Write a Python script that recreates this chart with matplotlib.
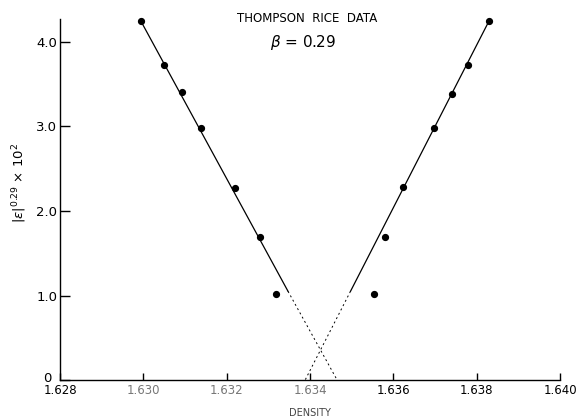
import matplotlib
matplotlib.use("Agg")
import matplotlib.pyplot as plt
from matplotlib.transforms import ScaledTranslation

# Data
left_density = [1.62994, 1.63050, 1.63093, 1.63138, 1.63220, 1.63280, 1.63318]
left_eps = [4.25, 3.73, 3.40, 2.98, 2.27, 1.69, 1.02]
right_density = [1.63830, 1.63779, 1.63741, 1.63698, 1.63623, 1.63580, 1.63554]
right_eps = [4.25, 3.73, 3.38, 2.98, 2.28, 1.69, 1.02]

# fitted lines (solid part, then dotted extrapolation)
left_fit_x = [1.62991, 1.63347]
left_fit_y = [4.27, 1.05]
left_ext_x = [1.63347, 1.63465]
left_ext_y = [1.05, 0.0]
right_fit_x = [1.63832, 1.63497]
right_fit_y = [4.27, 1.05]
right_ext_x = [1.63497, 1.63388]
right_ext_y = [1.05, 0.0]

xticks = [1.628, 1.630, 1.632, 1.634, 1.636, 1.638, 1.640]
xticklabels = ["1.628", "1.630", "1.632", "1.634", "1.636", "1.638", "1.640"]
yticks = [0, 1, 2, 3, 4]
yticklabels = ["0", "1.0", "2.0", "3.0", "4.0"]

fig = plt.figure(figsize=(5.78, 4.2), dpi=100)
ax = fig.add_axes([0.104, 0.095, 0.865, 0.86])

ax.plot(left_fit_x, left_fit_y, color="black", lw=0.9)
ax.plot(left_ext_x, left_ext_y, color="black", lw=0.7, ls=(0, (2, 3)))
ax.plot(right_fit_x, right_fit_y, color="black", lw=0.9)
ax.plot(right_ext_x, right_ext_y, color="black", lw=0.7, ls=(0, (2, 3)))
ax.plot(left_density, left_eps, "o", color="black", ms=4.2, clip_on=False)
ax.plot(right_density, right_eps, "o", color="black", ms=4.2, clip_on=False)

ax.set_xlim(1.628, 1.640)
ax.set_ylim(0, 4.27)
ax.spines["top"].set_visible(False)
ax.spines["right"].set_visible(False)
for s in ("left", "bottom"):
    ax.spines[s].set_linewidth(1.0)

ax.set_xticks(xticks)
ax.set_xticklabels(xticklabels, fontsize=8.5)
for lab, c in zip(ax.get_xticklabels(), ["black", "#777777", "#777777", "#777777", "black", "black", "black"]):
    lab.set_color(c)
first = ax.get_xticklabels()[0]
first.set_transform(first.get_transform() + ScaledTranslation(3 / 72, -2 / 72, fig.dpi_scale_trans))
last = ax.get_xticklabels()[-1]
last.set_transform(last.get_transform() + ScaledTranslation(-1.5 / 72, 0, fig.dpi_scale_trans))
ax.set_yticks(yticks)
ax.set_yticklabels(yticklabels, fontsize=9.5)
ax.tick_params(axis="x", direction="in", length=5, width=1, pad=3)
ax.tick_params(axis="y", direction="in", length=7, width=1, pad=2)
zero = ax.get_yticklabels()[0]
zero.set_transform(zero.get_transform() + ScaledTranslation(-4 / 72, 2 / 72, fig.dpi_scale_trans))

ax.set_xlabel("DENSITY", fontsize=7, color="#444444", labelpad=8)
ax.set_ylabel(r"$|\epsilon|^{0.29}$ $\times$ $10^{2}$", fontsize=9.5)
ax.yaxis.set_label_coords(-0.062, 0.545)

fig.text(0.531, 0.955, "THOMPSON  RICE  DATA", fontsize=8.5, ha="center", va="center")
fig.text(0.524, 0.90, r"$\beta$ = 0.29", fontsize=11, ha="center", va="center")

fig.savefig("out.png", dpi=100)
